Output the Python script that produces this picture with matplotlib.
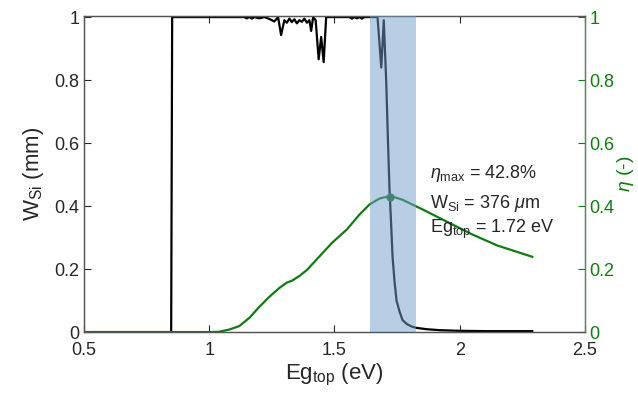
import matplotlib
matplotlib.use("Agg")
import matplotlib.pyplot as plt

plt.rcParams['font.family'] = ['Liberation Sans', 'DejaVu Sans']
plt.rcParams['mathtext.fontset'] = 'custom'
plt.rcParams['mathtext.rm'] = 'Liberation Sans'
plt.rcParams['mathtext.it'] = 'Liberation Sans:italic'

# W_Si (mm) vs Eg_top (eV)
eg_w = [0.50, 0.70, 0.848, 0.852, 1.00, 1.14, 1.15, 1.16, 1.17, 1.18, 1.20, 1.22, 1.24,
        1.26, 1.275, 1.287, 1.30, 1.31, 1.32, 1.33, 1.34, 1.35, 1.36, 1.37, 1.38, 1.39,
        1.40, 1.407, 1.415, 1.425, 1.437, 1.447, 1.457, 1.467, 1.50, 1.56, 1.57, 1.58,
        1.59, 1.60, 1.61, 1.62, 1.65, 1.672, 1.687, 1.697, 1.707, 1.714, 1.72, 1.726,
        1.732, 1.740, 1.748, 1.760, 1.772, 1.79, 1.81, 1.83, 1.87, 1.92, 2.00, 2.10,
        2.20, 2.29]
w_si = [0.0, 0.0, 0.0, 1.0, 1.0, 1.0, 0.996, 1.0, 0.995, 1.0, 0.996, 1.0, 0.994,
        0.986, 1.0, 0.943, 0.99, 0.982, 0.995, 0.984, 0.993, 0.98, 0.99, 0.985, 0.995,
        0.982, 0.99, 0.956, 1.0, 0.99, 0.866, 0.937, 0.857, 1.0, 1.0, 1.0, 0.995, 1.0,
        0.996, 1.0, 0.995, 1.0, 1.0, 1.0, 0.84, 0.99, 0.79, 0.60, 0.45, 0.35,
        0.24, 0.16, 0.10, 0.065, 0.038, 0.025, 0.017, 0.013, 0.009, 0.006, 0.004, 0.003,
        0.003, 0.003]

# efficiency eta vs Eg_top (eV)
eg_eta = [0.50, 0.80, 1.00, 1.04, 1.08, 1.12, 1.16, 1.20, 1.24, 1.28, 1.31, 1.33,
          1.36, 1.39, 1.44, 1.49, 1.55, 1.60, 1.64, 1.68, 1.70, 1.716, 1.74, 1.772,
          1.85, 1.95, 2.05, 2.15, 2.29]
eta = [0.0, 0.0, 0.0, 0.001, 0.008, 0.019, 0.045, 0.08, 0.112, 0.14, 0.157, 0.163,
       0.178, 0.197, 0.24, 0.283, 0.326, 0.373, 0.405, 0.424, 0.428, 0.430, 0.428, 0.420,
       0.39, 0.35, 0.31, 0.275, 0.239]

opt_eg = 1.72
opt_eta = 0.428
span_lo, span_hi = 1.644, 1.824

x_ticks = [0.5, 1, 1.5, 2, 2.5]
x_labels = ['0.5', '1', '1.5', '2', '2.5']
y_ticks = [0, 0.2, 0.4, 0.6, 0.8, 1]
y_labels = ['0', '0.2', '0.4', '0.6', '0.8', '1']

green = '#117a11'
frame = '#262626'
spine = '#555555'

fig = plt.figure(figsize=(6.38, 4.03), dpi=100)
ax = fig.add_axes([0.1317, 0.176, 0.785, 0.784])
ax2 = ax.twinx()

ax.plot(eg_w, w_si, color='black', lw=1.6, zorder=2)
ax2.plot(eg_eta, eta, color=green, lw=1.6, zorder=2)
ax2.plot([opt_eg], [opt_eta], 'o', ms=5, mfc='#1d5a3a', mec=green, zorder=3)
ax2.axvspan(span_lo, span_hi, color=(0.45, 0.62, 0.80), alpha=0.5, lw=0, zorder=4)

ax.set_xlim(0.5, 2.5)
ax.set_ylim(0, 1.003)
ax2.set_ylim(0, 1.003)
ax.set_xticks(x_ticks)
ax.set_xticklabels(x_labels)
ax.set_yticks(y_ticks)
ax.set_yticklabels(y_labels)
ax2.set_yticks(y_ticks)
ax2.set_yticklabels(y_labels)

ax.tick_params(axis='x', direction='in', top=True, length=5, labelsize=13, colors=frame, pad=7)
ax.tick_params(axis='y', direction='in', length=5, labelsize=13, colors=frame)
ax2.tick_params(axis='y', direction='in', length=5, labelsize=13, colors=green)
for a in (ax, ax2):
    for s in a.spines.values():
        s.set_color(spine)
        s.set_linewidth(0.9)
ax2.spines['right'].set_color('#3d9a3d')

ax.set_xlabel('Eg$_{\\mathrm{top}}$ (eV)', fontsize=16, color=frame, labelpad=2)
ax.set_ylabel('W$_{\\mathrm{Si}}$ (mm)', fontsize=16, color=frame, labelpad=6)
ax2.set_ylabel('$\\it{\\eta}$ (-)', fontsize=14, color=green, labelpad=0)

ax2.text(1.88, 0.47, '$\\it{\\eta}_{\\mathrm{max}}$ = 42.8%', fontsize=13, color=frame, va='bottom', zorder=5)
ax2.text(1.88, 0.375, 'W$_{\\mathrm{Si}}$ = 376 $\\it{\\mu}$m', fontsize=13, color=frame, va='bottom', zorder=5)
ax2.text(1.88, 0.29, 'Eg$_{\\mathrm{top}}$ = 1.72 eV', fontsize=13, color=frame, va='bottom', zorder=5)

fig.savefig('out.png', dpi=100)
